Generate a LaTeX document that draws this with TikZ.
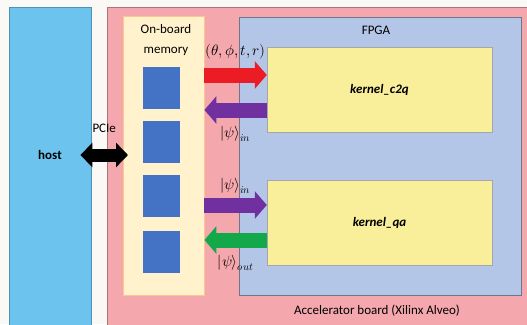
\documentclass[tikz,border=0pt]{standalone}
\usepackage{fontspec}
\usepackage{unicode-math}
\setmainfont{Carlito}
\setmathfont{Latin Modern Math}
\usetikzlibrary{arrows.meta}
\definecolor{paper}{HTML}{FBF9F6}
\definecolor{hostblue}{HTML}{6CC3EE}
\definecolor{boardpink}{HTML}{F4A7AD}
\definecolor{memcream}{HTML}{FFF2CC}
\definecolor{fpgablue}{HTML}{B4C6E7}
\definecolor{kernyellow}{HTML}{F9EF9B}
\definecolor{cellblue}{HTML}{4472C4}
\definecolor{sendred}{HTML}{EC1C24}
\definecolor{statepurple}{HTML}{7030A0}
\definecolor{outgreen}{HTML}{13A84A}

\begin{document}
\begin{tikzpicture}[x=1pt, y=-1pt, font=\fontsize{13}{16}\selectfont,
          box/.style={draw, anchor=north west, inner sep=0pt},
          kernel/.style={draw=black!35, fill=kernyellow, minimum width=225pt, minimum height=85pt},
          cell/.style={fill=cellblue, inner sep=0pt, minimum width=37pt, minimum height=42pt},
          flow/.style={line width=15pt, -{Triangle[length=12pt, width=27pt]}},
          pcie/.style={line width=13pt, {Triangle[length=12pt, width=24pt]}-{Triangle[length=12pt, width=24pt]}},
          lbl/.style={inner sep=1pt, text=black},
          state/.style={lbl, font=\fontsize{15}{18}\selectfont}]
        \fill[paper] (0,0) rectangle (527,324);
        \useasboundingbox (0,0) rectangle (527,324);
        \node[box, fill=hostblue, draw=hostblue!75!black, minimum width=82pt, minimum height=330pt] (host) at (9,7) {};
        \node[box, fill=boardpink, draw=boardpink!70!black, minimum width=430pt, minimum height=330pt] (board) at (107,7) {};
        \node[box, fill=memcream, draw=orange!45, minimum width=81pt, minimum height=279pt] (mem) at (123,16) {};
        \node[box, fill=fpgablue, draw=fpgablue!60!black, minimum width=282pt, minimum height=278pt] (fpga) at (239,17) {};
        \node[kernel] (c2q) at (379.5,89.5) {\textbf{\textit{kernel\_c2q}}};
        \node[kernel] (qa) at (379.5,222.5) {\textbf{\textit{kernel\_qa}}};
        \foreach \i/\y in {1/88,2/142,3/196,4/252}
          \node[cell] (cell\i) at (161.5,\y) {};
        \node (hostlbl) at (50,155) {\textbf{host}};
        \node[align=center, font=\fontsize{13}{20}\selectfont] (memlbl) at (166,40) {On-board\\memory};
        \node (fpgalbl) at (376,30) {FPGA};
        \node (boardlbl) at (377,311) {Accelerator board (Xilinx Alveo)};
        \draw[pcie] ([xshift=-11pt]host.east |- hostlbl) -- node[lbl, above=15pt] {PCIe} ([xshift=5pt]mem.west |- hostlbl);
        \draw[flow, sendred] ([yshift=14.5pt]mem.east |- c2q.west) -- node[state, above=7pt] {$(\theta,\phi,t,r)$} ([yshift=14.5pt]c2q.west);
        \draw[flow, statepurple] ([yshift=-20.5pt]c2q.west) -- node[state, below=8pt] {$|\psi\rangle_{in}$} ([yshift=-20.5pt]mem.east |- c2q.west);
        \draw[flow, statepurple] ([yshift=17.5pt]mem.east |- qa.west) -- node[state, above=3pt] {$|\psi\rangle_{in}$} ([yshift=17.5pt]qa.west);
        \draw[flow, outgreen] ([yshift=-17.5pt]qa.west) -- node[state, below=7pt] {$|\psi\rangle_{out}$} ([yshift=-17.5pt]mem.east |- qa.west);
      \end{tikzpicture}
\end{document}
